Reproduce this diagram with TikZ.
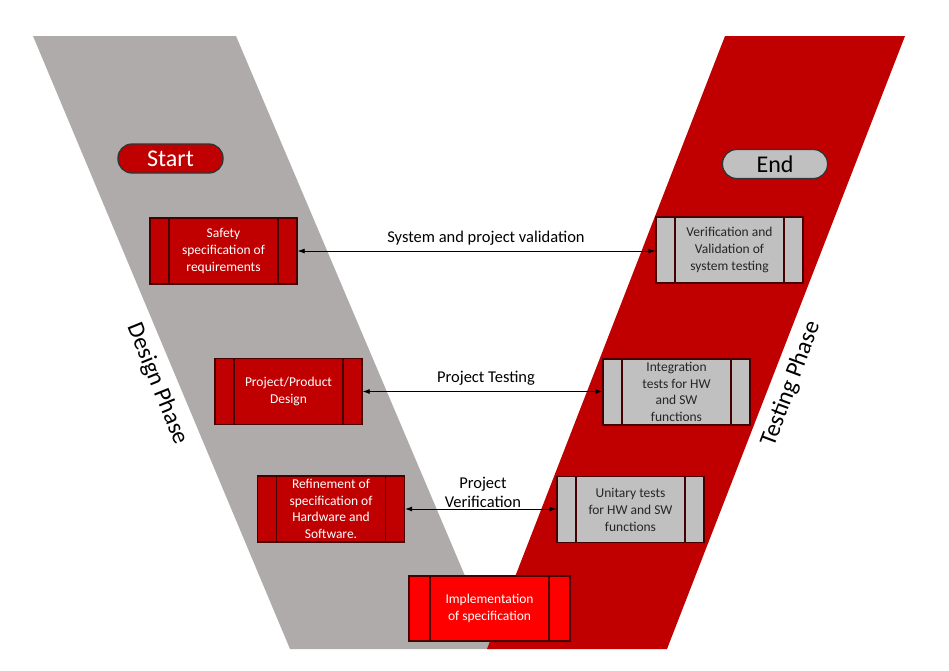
\documentclass[tikz,border=0pt]{standalone}
\usepackage{fontspec}
\setmainfont{Carlito}
\usetikzlibrary{arrows.meta}
\definecolor{bandgray}{RGB}{174,171,170}
\definecolor{bandred}{RGB}{192,0,0}
\definecolor{boxred}{RGB}{192,0,0}
\definecolor{boxgray}{RGB}{192,192,192}
\definecolor{implred}{RGB}{255,0,0}
\definecolor{edgedark}{RGB}{70,0,0}
\definecolor{txtdark}{RGB}{38,38,38}
\begin{document}
\begin{tikzpicture}[x=1pt,y=-1pt,
  procbox/.style={draw=edgedark, line width=1.3pt, minimum width=147pt, minimum height=66pt,
    inner sep=0pt, align=center, font=\fontsize{13.5}{17}\selectfont,
    path picture={
      \draw[edgedark, line width=1.3pt] ([xshift=19pt]path picture bounding box.north west) -- ([xshift=19pt]path picture bounding box.south west);
      \draw[edgedark, line width=1.3pt] ([xshift=-19pt]path picture bounding box.north east) -- ([xshift=-19pt]path picture bounding box.south east);
    }},
  redbox/.style={procbox, fill=boxred, text=white},
  graybox/.style={procbox, fill=boxgray, text=txtdark},
  pill/.style={draw=black!80, line width=1.3pt, rounded corners=14pt, minimum width=105pt, minimum height=29pt, inner sep=0pt, font=\fontsize{24}{26}\selectfont},
  link/.style={arrows={Latex[length=7pt,width=5pt]-Latex[length=7pt,width=5pt]}, line width=0.8pt, black},
  lbl/.style={font=\fontsize{16.5}{19}\selectfont, text=black, align=center},
  phase/.style={font=\fontsize{24}{26}\selectfont, text=black}
]
\useasboundingbox (0,0) rectangle (949,670);
\fill[white] (0,0) rectangle (949,670);
% bands
\fill[bandgray] (33,36) -- (236,36) -- (496,649) -- (290,649) -- cycle;
\fill[bandred] (725,36) -- (905,36) -- (667,649) -- (487,649) -- cycle;

% pills
\node[pill, fill=boxred, text=white] (start) at (170.5,158.5) {Start};
\node[pill, fill=boxgray, text=black] (end) at (775,164) {End};

% boxes
\node[redbox] (safety) at (223.5,251) {Safety\\specification of\\requirements};
\node[graybox] (verif) at (729.5,250) {Verification and\\Validation of\\system testing};
\node[redbox] (design) at (288.5,391.5) {Project/Product\\Design};
\node[graybox, font=\fontsize{13.5}{16.5}\selectfont] (integ) at (676.5,392) {Integration\\tests for HW\\and SW\\functions};
\node[redbox, font=\fontsize{13.5}{16.5}\selectfont] (refine) at (331,509) {Refinement of\\specification of\\Hardware and\\Software.};
\node[graybox] (unit) at (630.5,509.5) {Unitary tests\\for HW and SW\\functions};
\node[procbox, fill=implred, text=white, minimum width=161pt, minimum height=65pt,
  path picture={
      \draw[edgedark, line width=1.3pt] ([xshift=21pt]path picture bounding box.north west) -- ([xshift=21pt]path picture bounding box.south west);
      \draw[edgedark, line width=1.3pt] ([xshift=-21pt]path picture bounding box.north east) -- ([xshift=-21pt]path picture bounding box.south east);
    }] (impl) at (489.5,608.5) {Implementation\\of specification};

% connectors
\draw[link] (safety.east) -- (verif.west |- safety.east);
\node[lbl] (l1) at (486,238) {System and project validation};
\draw[link] (design.east) -- (integ.west |- design.east);
\node[lbl] (l2) at (486,378) {Project Testing};
\draw[link] (refine.east) -- (unit.west |- refine.east);
\node[lbl] (l3) at (483,492) {Project\\Verification};

% phase labels
\node[phase, rotate=-68] (dp) at (157,384) {Design Phase};
\node[phase, rotate=69.5] (tp) at (791,384) {Testing Phase};
\end{tikzpicture}
\end{document}
